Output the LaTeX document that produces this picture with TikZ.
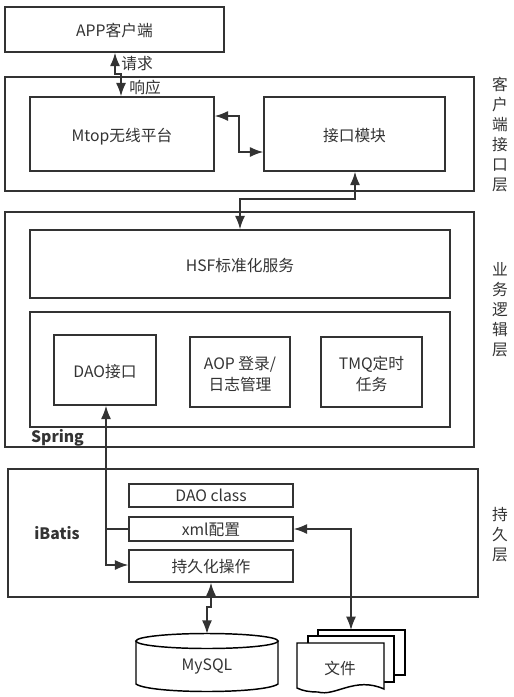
\documentclass[tikz,border=0pt]{standalone}
\usepackage{fontspec}
\setmainfont{Noto Sans CJK SC}
\usetikzlibrary{arrows.meta}
\definecolor{inkgray}{HTML}{333333}
\tikzset{
	layerbox/.style={draw=inkgray, line width=1.1pt, inner sep=0pt, text=inkgray, text height=12.5pt, text depth=1pt},
	size/.style 2 args={minimum width=#1*0.75pt, minimum height=#2*0.75pt},
	label/.style={text=inkgray, inner sep=0pt, font=\fontsize{11.8}{15}\selectfont},
	sidelabel/.style={label, align=center},
	link/.style={draw=inkgray, line width=1.1pt, {Latex[length=10pt,width=7.5pt]}-{Latex[length=10pt,width=7.5pt]}},
	sheet/.style={draw=black, line width=1.1pt, fill=white},
}
\begin{document}
\begin{tikzpicture}[x=0.75pt, y=-0.75pt, every node/.append style={font=\fontsize{11.8}{15.5}\selectfont}]
	\useasboundingbox (0,0) rectangle (514,697);
	
	\node[layerbox, size={219}{45}, text height=11pt] (app) at (114.5,29.5) {APP客户端};
	
	% client layer
	\node[layerbox, size={469}{114}] (clientlayer) at (239.5,134) {};
	\node[layerbox, size={184}{74}] (mtop) at (122,134) {Mtop无线平台};
	\node[layerbox, size={181}{74}] (iface) at (354.5,134) {接口模块};
	\node[sidelabel] (clientside) at (500,135) {客\\户\\端\\接\\口\\层};
	\node[label] (reqlabel) at (137,64) {请求};
	\node[label] (resplabel) at (145,88) {响应};
	
	% business layer
	\node[layerbox, size={469}{235}] (bizlayer) at (239.5,329.5) {};
	\node[layerbox, size={420}{68}] (hsf) at (240,264) {HSF标准化服务};
	\node[layerbox, size={420}{115}] (inner) at (240,369.5) {};
	\node[layerbox, size={102}{70}] (dao) at (105,370) {DAO接口};
	\node[layerbox, size={100}{70}, align=center, text height=28pt] (aop) at (240,372) {AOP 登录/\\日志管理};
	\node[layerbox, size={101}{70}, align=center, text height=28pt] (tmq) at (371.5,372) {TMQ定时\\任务};
	\node[label, font=\fontsize{11.8}{15}\selectfont\bfseries] (spring) at (57.5,438) {Spring};
	\node[sidelabel] (bizside) at (500,310) {业\\务\\逻\\辑\\层};
	
	% persistence layer
	\node[layerbox, size={470}{128}] (perslayer) at (243,533) {};
	\node[layerbox, size={164}{23}, text height=10pt] (daoclass) at (211,495.5) {DAO class};
	\node[layerbox, size={164}{24}, text height=10pt] (xml) at (211,529) {xml配置};
	\node[layerbox, size={164}{32}, text height=11pt] (persist) at (211,566) {持久化操作};
	\node[label, font=\fontsize{11.8}{15}\selectfont\bfseries] (ibatis) at (57,533) {iBatis};
	\node[sidelabel] (persside) at (500,535) {持\\久\\层};
	
	% storage
	\node[inner sep=0pt, size={142}{56}] (mysql) at (207,662) {};
	\draw[black, line width=1.1pt] (136,641) -- (136,684) .. controls (150,694) and (264,694) .. (278,684) -- (278,641);
	\draw[black, line width=1.1pt] (207,641) ellipse [x radius=71, y radius=7.5];
	\node[label] (mysqllabel) at (207,666) {MySQL};
	\node[sheet, size={87}{45}] (fileback) at (361.5,652.5) {};
	\node[sheet, size={86}{46}] (filemid) at (351,659) {};
	\draw[sheet] (297,643) -- (384,643) -- (384,689) .. controls (355,676) and (335,697) .. (318,692) .. controls (310,692) and (303,691) .. (297,688) -- cycle;
	\node[label] (filelabel) at (340,668) {文件};
	
	% connectors
	\coordinate (appstep) at (115,74);
	\coordinate (filetop) at (351,630);
	\coordinate (hsfturn) at (355,199);
	\draw[link] (app.south -| appstep) -- (115,74) -- (121,74) -- (mtop.north -| 121,0);
	\draw[link] (mtop.east |- 0,116) -- (239,116) -- (239,152) -- (iface.west |- 0,152);
	\draw[link] (iface.south -| hsfturn) -- (hsfturn) -- (240,199) -- (hsf.north -| 240,0);
	\draw[link] (dao.south -| 106,0) -- (106,565) -- (persist.west |- 0,565);
	\draw[draw=inkgray, line width=1.1pt] (xml.west) -- (xml.west -| 106,0);
	\draw[link] (xml.east) -| (filetop);
	\draw[link] (persist.south -| 211,0) -- (211,607) -- (207,607) -- (mysql.north -| 207,0);
\end{tikzpicture}
\end{document}
